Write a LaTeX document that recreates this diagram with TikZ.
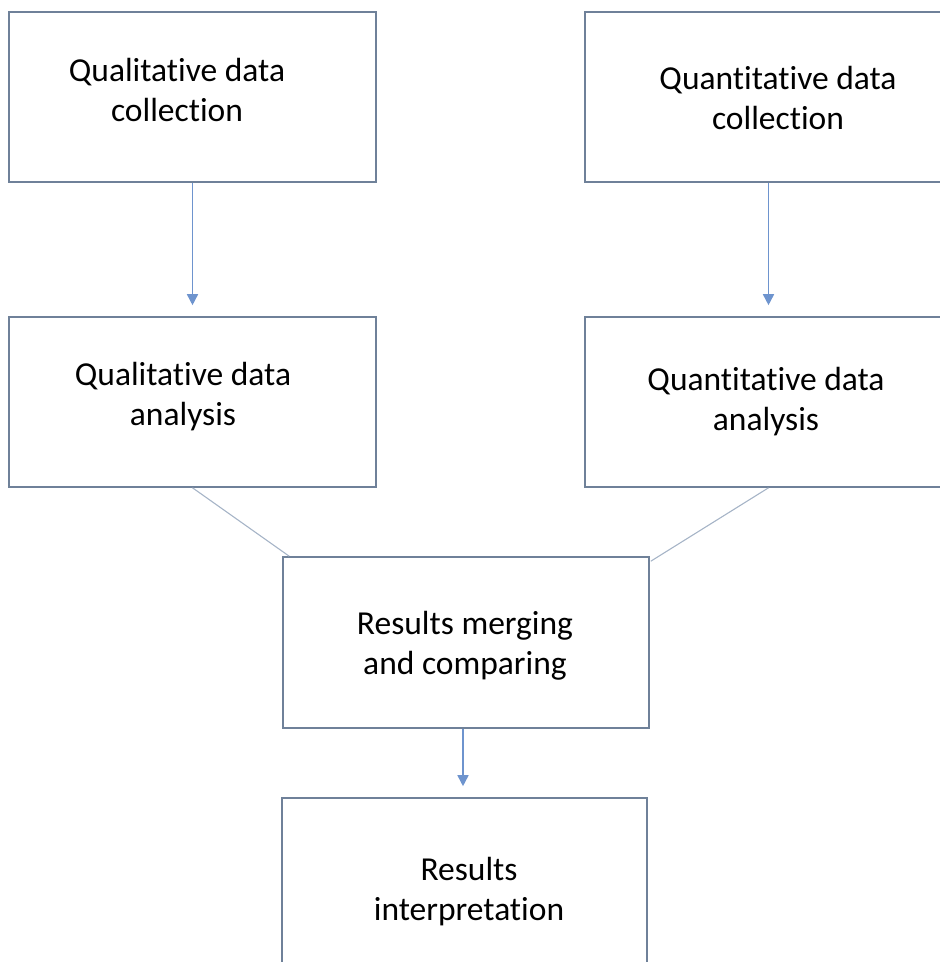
\documentclass[tikz,border=0pt]{standalone}
\usepackage{fontspec}
\setmainfont{Carlito}[Ligatures={NoCommon,NoContextual}]
\usetikzlibrary{arrows.meta,calc}
\definecolor{boxc}{HTML}{6F8199}
\definecolor{arrc}{HTML}{6E94CE}
\definecolor{linec}{HTML}{A6B4C7}
\newcommand\tX{t\kern0pt i}
\begin{document}
\begin{tikzpicture}[x=1pt,y=-1pt,
  stepbox/.style={draw=boxc,line width=1.6pt,minimum width=367pt,minimum height=170pt,inner sep=0pt},
  txt/.style={align=center,font=\fontsize{33.5}{40}\selectfont,text=black,inner sep=0pt},
  arr/.style={draw=arrc,line width=1.6pt,-{Triangle[length=11pt,width=11pt]},shorten >=11pt},
  link/.style={draw=linec,line width=1.1pt}]
\useasboundingbox (0,0) rectangle (940,962);
\begin{scope}
\clip (0,0) rectangle (940,962);
\node[stepbox] (b1) at (192.5,97) {};
\node[stepbox] (b2) at (768.5,97) {};
\node[stepbox] (b3) at (192.5,402) {};
\node[stepbox] (b4) at (768.5,402) {};
\node[stepbox,minimum width=366pt,minimum height=171pt] (b5) at (466,642.5) {};
\node[stepbox,minimum width=365pt] (b6) at (464.5,883) {};
\end{scope}
\node[txt] (t1) at (177,90) {Qualita\tX ve data\\collection};
\node[txt] (t2) at (778,97.5) {Quan\tX ta\tX ve data\\collection};
\node[txt] (t3) at (183,397) {Qualita\tX ve data\\analysis};
\node[txt] (t4) at (766,402) {Quan\tX ta\tX ve data\\analysis};
\node[txt] (t5) at (465,646) {Results merging\\and comparing};
\node[txt] (t6) at (469,892) {Results\\interpretation};
\draw[arr] (b1.south) -- (b3.north);
\draw[arr] (b2.south) -- (b4.north);
\coordinate (a5) at ($(b5.south)+(-3,0)$);
\draw[arr] (a5) -- (a5 |- b6.north);
\coordinate (m1) at ($(b5.north west)+(7,0)$);
\coordinate (m2) at ($(b5.north east)+(1,5)$);
\draw[link] (b3.south) -- (m1);
\draw[link] (b4.south) -- (m2);
\end{tikzpicture}
\end{document}
